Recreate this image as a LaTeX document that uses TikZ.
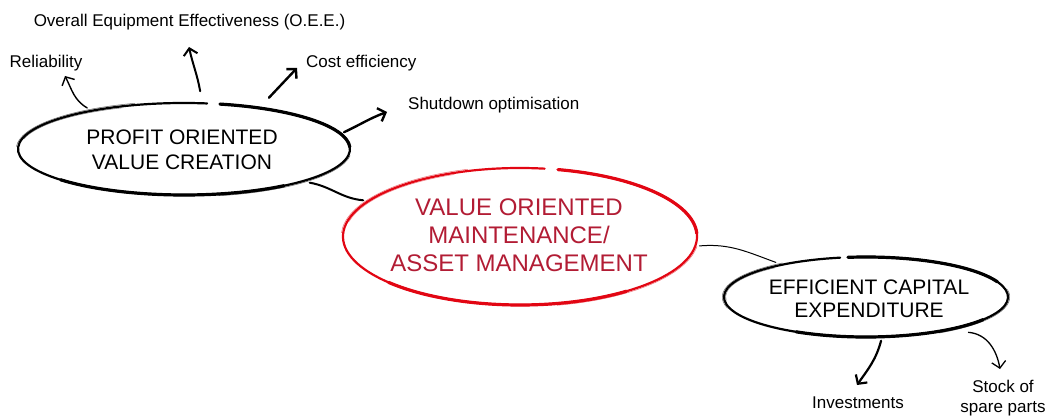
\documentclass[tikz,border=0pt]{standalone}
\usepackage{fontspec}
\setmainfont{Liberation Sans}
\usetikzlibrary{arrows.meta,shapes.geometric}
\definecolor{ellred}{RGB}{226,6,19}
\definecolor{txtred}{RGB}{178,28,52}
% sketched ellipse: #1 node, #2 rx, #3 ry, #4 start angle, #5 end angle, #6 colour
\newcommand\skellipse[6]{%
  \draw[#6, line width=2.2pt, line cap=round]
    ([shift={(#4:#2 and #3)}]#1.center) arc[start angle=#4, end angle=#5, x radius=#2, y radius=#3];
  \draw[#6, line width=3.2pt, line cap=round]
    ([shift={({#5-75}:#2 and #3)}]#1.center) arc[start angle=#5-75, end angle=#5, x radius=#2, y radius=#3];
  \draw[#6, line width=3.2pt, line cap=round]
    ([shift={({#4+140}:#2 and #3)}]#1.center) arc[start angle=#4+140, end angle=#4+225, x radius=#2, y radius=#3];
  \draw[#6, line width=0.5pt, opacity=0.6]
    ([shift={({#4+25}:{#2+1.8} and {#3+1.8})}]#1.center) arc[start angle=#4+25, end angle=#4+95, x radius=#2+1.8, y radius=#3+1.8];
  \draw[#6, line width=0.5pt, opacity=0.6]
    ([shift={({#4+200}:{#2+1.8} and {#3+1.8})}]#1.center) arc[start angle=#4+200, end angle=#4+270, x radius=#2+1.8, y radius=#3+1.8];
  \draw[#6, line width=0.5pt, opacity=0.5]
    ([shift={({#4+30}:{#2-1.6} and {#3-1.6})}]#1.center) arc[start angle=#4+30, end angle=#4+85, x radius=#2-1.6, y radius=#3-1.6];
}
\begin{document}
\begin{tikzpicture}[x=1pt,y=1pt,
  ell/.style={ellipse, inner sep=0pt, outer sep=4pt},
  lbl/.style={font=\fontsize{17}{20}\selectfont, inner sep=1pt},
  big/.style={align=center, font=\fontsize{21}{25}\selectfont},
  arr/.style={-{Straight Barb[length=6.5pt,width=14pt]}, line cap=round, line join=round},
  link/.style={line cap=round}]
\useasboundingbox (0,0) rectangle (1047,416);

% main ellipses
\node[ell, minimum width=332pt, minimum height=92pt] (profit) at (184,267) {};
\node[ell, minimum width=354pt, minimum height=137pt] (red) at (520,179.5) {};
\node[ell, minimum width=284pt, minimum height=80pt] (eff) at (866,119) {};

\skellipse{profit}{166}{46}{82}{437.5}{black}
\skellipse{red}{177}{68.5}{82}{437.6}{ellred}
\skellipse{eff}{142}{40}{100.5}{457.3}{black}

\node[big] (profitT) at (182,266) {PROFIT ORIENTED\\VALUE CREATION};
\node[big, text=txtred, font=\fontsize{24}{28}\selectfont] (redT) at (519,181) {VALUE ORIENTED\\MAINTENANCE/\\ASSET MANAGEMENT};
\node[big, font=\fontsize{21}{23}\selectfont] (effT) at (869,117) {EFFICIENT CAPITAL\\EXPENDITURE};

% labels
\node[lbl] (oee) at (189.5,394) {Overall Equipment Effectiveness (O.E.E.)};
\node[lbl] (rel) at (46,353) {Reliability};
\node[lbl, anchor=west] (cost) at (305,353) {Cost efficiency};
\node[lbl, anchor=west] (shut) at (407,311) {Shutdown optimisation};
\node[lbl] (inv) at (858,13) {Investments};
\node[lbl, align=center, font=\fontsize{17}{19.5}\selectfont] (stock) at (1003,18) {Stock of\\spare parts};

% arrow tips
\coordinate (relTip) at (65,340);
\coordinate (oeeTip) at (189,369);
\coordinate (costTip) at (297,348);
\coordinate (shutTip) at (387,304);
\coordinate (invTip) at (857,31);
\coordinate (stockTip) at (1000,47);

% connectors
\draw[arr, line width=1.4pt] (profit.157) to[out=150,in=-63] (relTip);
\draw[arr, line width=2pt] ([yshift=8pt]profit.72) to[out=100,in=-78] (oeeTip);
\draw[arr, line width=2.4pt] ([yshift=8pt]profit.27) -- (costTip);
\draw[arr, line width=2.4pt] (profit.6) to[out=25,in=-160] (shutTip);
\draw[link, line width=2pt] (profit.-15) to[out=-10,in=175] (red.167);
\draw[link, line width=1pt] (red.-3) to[out=5,in=160] (eff.159);
\draw[arr, line width=2.2pt] (eff.-71) to[out=-105,in=55] (invTip);
\draw[arr, line width=1.3pt] ([yshift=-4pt]eff.-17) to[out=-5,in=100] (stockTip);
\end{tikzpicture}
\end{document}
